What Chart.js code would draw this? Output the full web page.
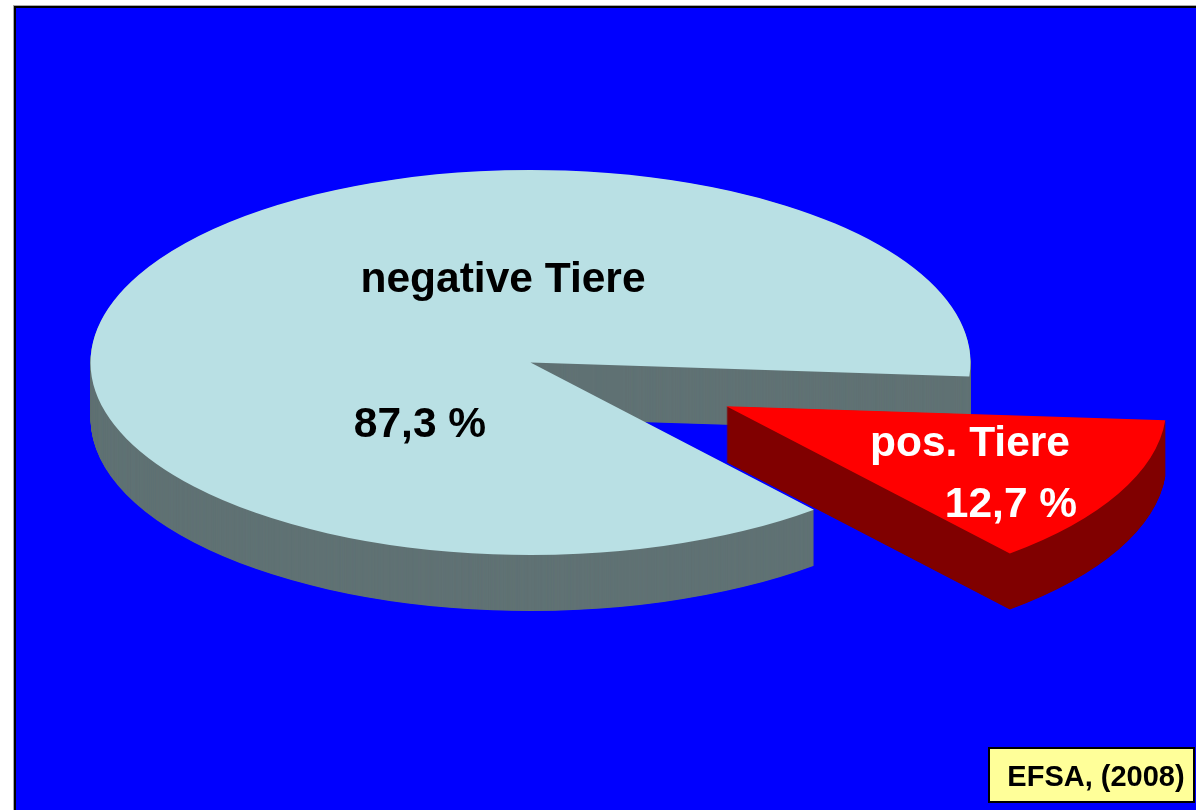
<!DOCTYPE html>
<html>
<head>
<meta charset="utf-8">
<script src="https://cdn.jsdelivr.net/npm/chart.js@4.4.1/dist/chart.umd.min.js"></script>
<style>
  html, body { margin: 0; padding: 0; background: #ffffff; overflow: hidden; }
  #wrap { position: relative; width: 1196px; height: 810px; }
  canvas { display: block; }
</style>
</head>
<body>
<div id="wrap"><canvas id="c" width="1196" height="810"></canvas></div>
<script>
// Slices of the pie
const categories = ['negative Tiere', 'pos. Tiere'];
const shares = [87.3, 12.7];
const sourceNote = 'EFSA, (2008)';

// Look of the slices
const topColors = ['#B9E0E4', '#FF0000'];
const wallColors = ['#607274', '#800000'];
const textColors = ['#000000', '#FFFFFF'];
const explode = [0, 0.5];      // pull-out distance, fraction of the radius
const depth = 56;              // wall height in px
const tilt = 0.4375;           // vertical squash of the disc
const startDeg = 49.9;         // first slice starts here, clockwise from 3 o'clock

// Text anchors (centre x, baseline y)
const nameAnchors = [[503, 292], [970, 456]];
const valueAnchors = [[420, 437], [1011, 517]];

const fmt = v => v.toFixed(1).replace('.', ',') + ' %';
const FONT = '"Liberation Sans", Arial, Helvetica, sans-serif';

// Page frame: white page, black rule on the left/top, blue panel
const framePlugin = {
  id: 'frame',
  beforeDraw(chart) {
    const { ctx, width, height } = chart;
    ctx.save();
    ctx.fillStyle = '#ffffff'; ctx.fillRect(0, 0, width, height);
    ctx.fillStyle = '#a8a8a8'; ctx.fillRect(13, 5, width, height);
    ctx.fillStyle = '#000000'; ctx.fillRect(14, 6, width, height);
    ctx.fillStyle = '#0000FF'; ctx.fillRect(16, 8, width, height);
    ctx.restore();
  }
};

// Tilted, extruded pie: every arc gets its side walls, then its top face
const pie3dPlugin = {
  id: 'pie3d',
  beforeDatasetDraw(chart, args) {
    const ctx = chart.ctx;
    args.meta.data.forEach((arc, i) => {
      const { x, y, startAngle, endAngle, outerRadius } =
        arc.getProps(['x', 'y', 'startAngle', 'endAngle', 'outerRadius'], true);
      const mid = (startAngle + endAngle) / 2;
      const ex = Math.cos(mid) * outerRadius * explode[i];
      const ey = Math.sin(mid) * outerRadius * explode[i] * tilt;
      const place = dy => {
        ctx.translate(x + ex, y + ey + dy);
        ctx.scale(1, tilt);
        ctx.translate(-x, -y);
      };
      ctx.save();
      ctx.fillStyle = wallColors[i];
      for (let dy = depth; dy >= 0.5; dy -= 0.5) {
        ctx.save();
        place(dy);
        ctx.beginPath();
        ctx.moveTo(x, y);
        ctx.arc(x, y, outerRadius, startAngle, endAngle);
        ctx.closePath();
        ctx.fill();
        ctx.restore();
      }
      ctx.save();
      place(0);
      arc.draw(ctx);
      ctx.restore();
      ctx.restore();
    });
    return false;
  }
};

// Slice names, percentages and the source box
const textPlugin = {
  id: 'texts',
  afterDatasetsDraw(chart) {
    const ctx = chart.ctx;
    ctx.save();
    ctx.textAlign = 'center';
    ctx.textBaseline = 'alphabetic';
    ctx.font = 'bold 42.5px ' + FONT;
    categories.forEach((name, i) => {
      ctx.fillStyle = textColors[i];
      ctx.fillText(name, nameAnchors[i][0], nameAnchors[i][1]);
      ctx.fillText(fmt(shares[i]), valueAnchors[i][0], valueAnchors[i][1]);
    });
    // source box
    ctx.fillStyle = '#FFFF99';
    ctx.fillRect(989, 748, 205, 54);
    ctx.strokeStyle = '#000000';
    ctx.lineWidth = 2;
    ctx.strokeRect(989, 748, 205, 54);
    ctx.fillStyle = '#000000';
    ctx.font = 'bold 29px ' + FONT;
    ctx.fillText(sourceNote, 1096, 786);
    ctx.restore();
  }
};

new Chart(document.getElementById('c'), {
  type: 'pie',
  data: {
    labels: categories,
    datasets: [{
      data: shares,
      backgroundColor: topColors,
      borderWidth: 0,
      clip: false
    }]
  },
  options: {
    responsive: false,
    devicePixelRatio: 1,
    animation: false,
    rotation: startDeg + 90,
    radius: 440,
    layout: { padding: { left: 0, top: 0, right: 135, bottom: 85 } },
    plugins: {
      legend: { display: false },
      tooltip: { enabled: false }
    }
  },
  plugins: [framePlugin, pie3dPlugin, textPlugin]
});
</script>
</body>
</html>
